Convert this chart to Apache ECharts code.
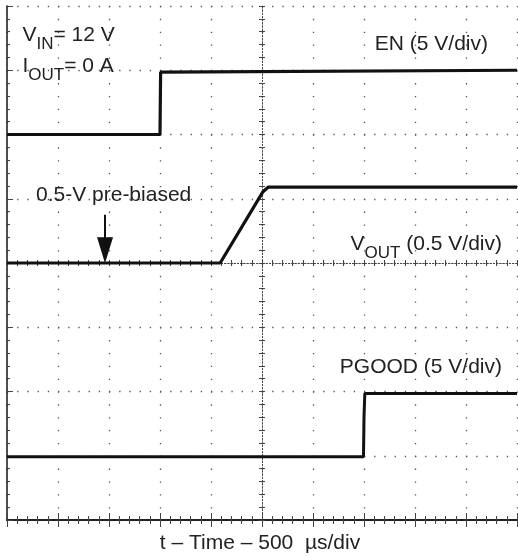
<!DOCTYPE html>
<html>
<head>
<meta charset="utf-8">
<script src="https://cdn.jsdelivr.net/npm/echarts@6/dist/echarts.min.js"></script>
<style>
html,body{margin:0;padding:0;background:#fff;}
#c{width:518px;height:556px;}
</style>
</head>
<body>
<div id="c"></div>
<script>
// time axis in microseconds (500 us/div), vertical axis in screen divisions
const timeMin = 0, timeMax = 5000, timeStep = 500;
const divMin = 0, divMax = 8, divStep = 1;

// EN trace (5 V/div)
const enTime  = [0, 1500, 1506, 1520, 5000];
const enLevel = [6.0, 6.0, 6.97, 7.0, 7.0];

// VOUT trace (0.5 V/div)
const voutTime  = [0, 2090, 2510, 2560, 5000];
const voutLevel = [4.0, 4.0, 5.11, 5.18, 5.18];

// PGOOD trace (5 V/div)
const pgTime  = [0, 3495, 3500, 3508, 5000];
const pgLevel = [0.985, 0.985, 1.6, 1.97, 1.97];

// pre-bias arrow annotation (time, level)
const arrowTime = 961;
const arrowFrom = 4.75;
const arrowTo = 4.2;

const FONT = "'Liberation Sans', Arial, Helvetica, sans-serif";
const TXT = '#222';

function pairs(xs, ys){ return xs.map((x,i)=>[x, ys[i]]); }

const frameColor = '#222';
const dotColor = '#555';

function frameX(pos){
  return {
    type:'value', min:timeMin, max:timeMax, interval:timeStep, position:pos,
    axisLine:{show:true, lineStyle:{color:frameColor, width:2}},
    axisTick:{show:true, inside:true, length:7, lineStyle:{color:'#444', width:1}},
    minorTick:{show:true, splitNumber:5, length:4, lineStyle:{color:'#444', width:1}},
    axisLabel:{show:false},
    splitLine:{show: pos==='bottom', lineStyle:{color:dotColor, width:1.3, type:[1.3, 11.55]}}
  };
}
function centerX(inside){
  return {
    type:'value', min:timeMin, max:timeMax, interval:timeStep, position:'bottom', offset:-257,
    axisLine:{show:true, lineStyle:{color:'#444', width:1, type:[1.2, 2]}},
    axisTick:{show:true, inside:inside, length:3, lineStyle:{color:'#444', width:1}},
    minorTick:{show:true, splitNumber:5, length:3, lineStyle:{color:'#444', width:1}},
    axisLabel:{show:false}, splitLine:{show:false}
  };
}
function centerY(inside){
  return {
    type:'value', min:divMin, max:divMax, interval:divStep, position:'left', offset:-255,
    axisLine:{show:true, lineStyle:{color:'#444', width:1, type:[1.2, 2]}},
    axisTick:{show:true, inside:inside, length:3, lineStyle:{color:'#444', width:1}},
    minorTick:{show:true, splitNumber:5, length:3, lineStyle:{color:'#444', width:1}},
    axisLabel:{show:false}, splitLine:{show:false}
  };
}

const mainStyle = {fontSize:21, fontFamily:FONT, fill:TXT, lineHeight:21, verticalAlign:'top'};
const subStyle  = {fontSize:17, fontFamily:FONT, fill:TXT, lineHeight:17, verticalAlign:'top', padding:[11,0,0,0]};
function label(text, x, y, align){
  return {
    type:'text', x:x, y:y, z:100,
    style:{text:text, align:align||'left', verticalAlign:'top', fill:TXT, fontSize:21, fontFamily:FONT,
      rich:{m:mainStyle, s:subStyle}}
  };
}

const chart = echarts.init(document.getElementById('c'), null, {renderer:'canvas'});
chart.setOption({
  backgroundColor:'#fff',
  animation:false,
  grid:{left:7, right:1, top:6, bottom:36},
  xAxis:[frameX('bottom'), frameX('top'), centerX(true), centerX(false)],
  yAxis:[
    {
      type:'value', min:divMin, max:divMax, interval:divStep, position:'left',
      axisLine:{show:true, lineStyle:{color:frameColor, width:1.6}},
      axisTick:{show:true, inside:true, length:6, lineStyle:{color:'#444', width:1}},
      minorTick:{show:true, splitNumber:5, length:3, lineStyle:{color:'#444', width:1}},
      axisLabel:{show:false},
      splitLine:{show:true, lineStyle:{color:dotColor, width:1.3, type:[1.3, 8.9]}}
    },
    centerY(true), centerY(false)
  ],
  series:[
    {type:'line', name:'EN', data:pairs(enTime, enLevel), xAxisIndex:0, yAxisIndex:0,
      symbol:'none', lineStyle:{color:'#111', width:3.2}, z:10},
    {type:'line', name:'VOUT', data:pairs(voutTime, voutLevel), xAxisIndex:0, yAxisIndex:0,
      symbol:'none', lineStyle:{color:'#111', width:3.2}, z:10,
      markLine:{silent:true, symbol:['none','triangle'], symbolSize:[16,26],
        label:{show:false},
        lineStyle:{color:'#111', width:2, type:'solid'},
        data:[[{coord:[arrowTime, arrowFrom]}, {coord:[arrowTime, arrowTo]}]]}},
    {type:'line', name:'PGOOD', data:pairs(pgTime, pgLevel), xAxisIndex:0, yAxisIndex:0,
      symbol:'none', lineStyle:{color:'#111', width:3}, z:10}
  ],
  graphic:[
    label('{m|V}{s|IN}{m|= 12 V}', 22.5, 25),
    label('{m|I}{s|OUT}{m|= 0 A}', 22.5, 56),
    label('{m|EN (5 V/div)}', 488, 34, 'right'),
    label('{m|0.5-V pre-biased}', 36, 185),
    label('{m|V}{s|OUT}{m| (0.5 V/div)}', 502, 234, 'right'),
    label('{m|PGOOD (5 V/div)}', 502, 357, 'right'),
    label('{m|t – Time – 500  µs/div}', 260, 533, 'center')
  ]
});
</script>
</body>
</html>
